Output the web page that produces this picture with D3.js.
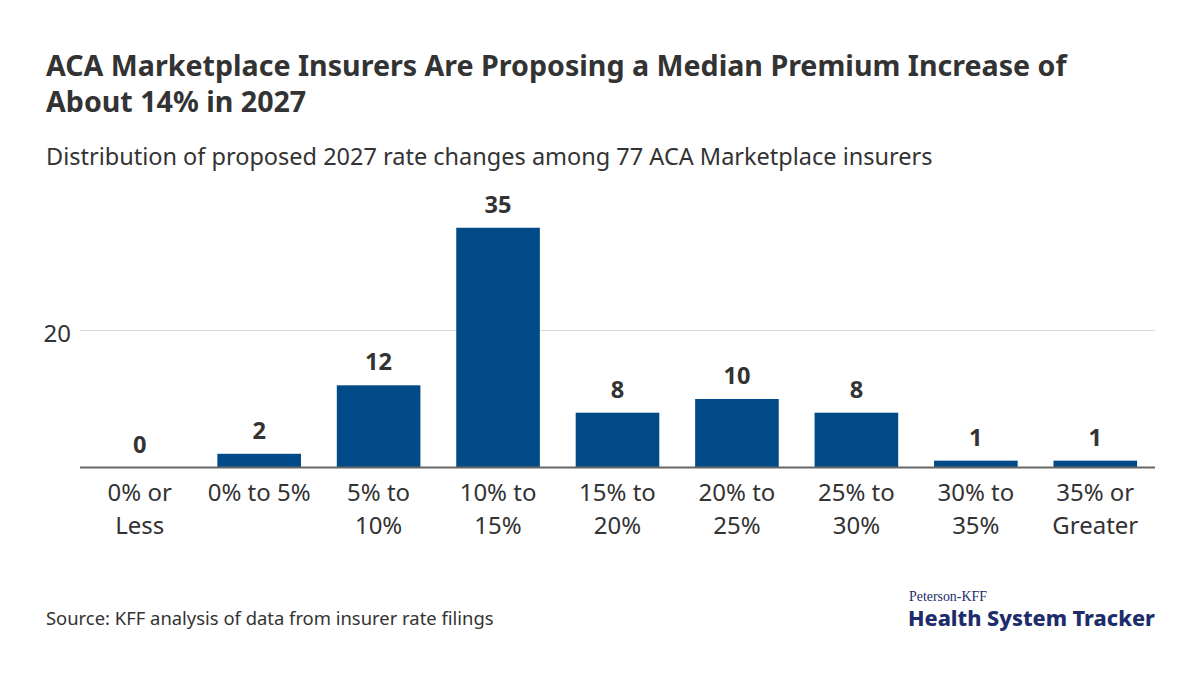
<!DOCTYPE html>
<html>
<head>
<meta charset="utf-8">
<script src="https://cdn.jsdelivr.net/npm/d3@7"></script>
<style>
  html, body { margin: 0; padding: 0; background: #fff; }
  svg { display: block; }
  text { font-family: "Noto Sans", Lato, sans-serif; }
</style>
</head>
<body>
<svg id="chart" width="1200" height="675"></svg>
<script>
const categories = [
  ["0% or", "Less"],
  ["0% to 5%"],
  ["5% to", "10%"],
  ["10% to", "15%"],
  ["15% to", "20%"],
  ["20% to", "25%"],
  ["25% to", "30%"],
  ["30% to", "35%"],
  ["35% or", "Greater"]
];
const values = [0, 2, 12, 35, 8, 10, 8, 1, 1];
const yTicks = [20];
const titleLines = [
  "ACA Marketplace Insurers Are Proposing a Median Premium Increase of",
  "About 14% in 2027"
];
const subtitle = "Distribution of proposed 2027 rate changes among 77 ACA Marketplace insurers";
const source = "Source: KFF analysis of data from insurer rate filings";

const svg = d3.select("#chart");
const textColor = "#333333";
const barColor = "#004a87";
const serif = "'Liberation Serif', 'DejaVu Serif', serif";

// size a font so that a reference string reaches a target width
function fitSize(str, base, weight, target, family) {
  const t = svg.append("text").attr("font-size", base).attr("font-weight", weight).text(str);
  if (family) t.style("font-family", family);
  const w = t.node().getComputedTextLength();
  t.remove();
  return base * target / w;
}

const titleSize = fitSize(titleLines[0], 28, 700, 1021);
const subSize = fitSize(subtitle, 22, 400, 887);
const sourceSize = fitSize(source, 18, 400, 448);
const catSize = fitSize("0% to 5%", 22, 400, 103);
const valSize = fitSize("35", 24, 700, 27);

// Title
svg.append("g").selectAll("text").data(titleLines).join("text")
  .attr("x", 46).attr("y", (d, i) => 76 + i * 36)
  .attr("font-size", titleSize).attr("font-weight", 700).attr("fill", textColor)
  .text(d => d);

svg.append("text").attr("x", 46).attr("y", 165)
  .attr("font-size", subSize).attr("fill", textColor).text(subtitle);

const x = d3.scaleBand()
  .domain(d3.range(categories.length))
  .range([80, 1155])
  .paddingInner(0.3)
  .paddingOuter(0.15);

const y = d3.scaleLinear().domain([0, 35]).range([467.5, 227.75]);

// gridlines
svg.append("g").selectAll("line").data(yTicks).join("line")
  .attr("x1", 80).attr("x2", 1155)
  .attr("y1", d => y(d)).attr("y2", d => y(d))
  .attr("stroke", "#d9d9d9").attr("stroke-width", 1);

svg.append("g").selectAll("text").data(yTicks).join("text")
  .attr("x", 71).attr("y", d => y(d) + 11)
  .attr("text-anchor", "end").attr("font-size", catSize).attr("fill", textColor)
  .text(d => d);

// bars
svg.append("g").selectAll("rect").data(values).join("rect")
  .attr("x", (d, i) => x(i))
  .attr("width", x.bandwidth())
  .attr("y", d => y(d))
  .attr("height", d => y(0) - y(d))
  .attr("fill", barColor);

// value labels
svg.append("g").selectAll("text").data(values).join("text")
  .attr("x", (d, i) => x(i) + x.bandwidth() / 2)
  .attr("y", d => y(d) - 15)
  .attr("text-anchor", "middle").attr("font-size", valSize).attr("font-weight", 700)
  .attr("fill", textColor)
  .text(d => d);

// axis line
svg.append("line").attr("x1", 80).attr("x2", 1155)
  .attr("y1", y(0)).attr("y2", y(0))
  .attr("stroke", "#666").attr("stroke-width", 2);

// category labels
const cat = svg.append("g").selectAll("text").data(categories).join("text")
  .attr("x", (d, i) => x(i) + x.bandwidth() / 2)
  .attr("y", 501)
  .attr("text-anchor", "middle").attr("font-size", catSize).attr("fill", textColor);
cat.selectAll("tspan").data(d => d).join("tspan")
  .attr("x", function () { return d3.select(this.parentNode).attr("x"); })
  .attr("dy", (d, i) => i === 0 ? 0 : 33)
  .text(d => d);

// source
svg.append("text").attr("x", 46).attr("y", 625)
  .attr("font-size", sourceSize).attr("fill", textColor).text(source);

// logo
const logoColor = "#1d2d6b";
const smallSize = fitSize("Peterson-KFF", 14, 400, 78, serif);
svg.append("text").attr("x", 909).attr("y", 601)
  .attr("font-size", smallSize).attr("fill", logoColor)
  .style("font-family", serif).text("Peterson-KFF");
const bigSize = fitSize("Health System Tracker", 22, 800, 247);
svg.append("text").attr("x", 908).attr("y", 626)
  .attr("font-size", bigSize).attr("font-weight", 800).attr("fill", logoColor)
  .text("Health System Tracker");
</script>
</body>
</html>
